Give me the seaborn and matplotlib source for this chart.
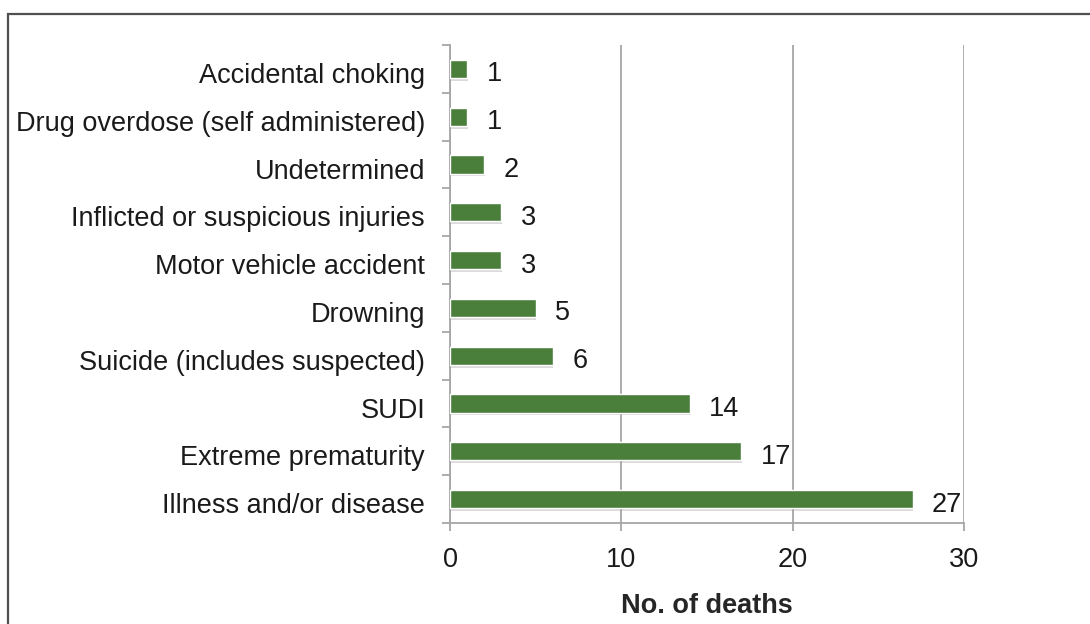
import matplotlib
matplotlib.use('Agg')
import matplotlib.pyplot as plt
import matplotlib.patches as mpatches
import matplotlib.patheffects as pe
from matplotlib.transforms import ScaledTranslation
import numpy as np
import pandas as pd
import seaborn as sns

causes = [
  'Accidental choking',
  'Drug overdose (self administered)',
  'Undetermined',
  'Inflicted or suspicious injuries',
  'Motor vehicle accident',
  'Drowning',
  'Suicide (includes suspected)',
  'SUDI',
  'Extreme prematurity',
  'Illness and/or disease',
]
deaths = [1, 1, 2, 3, 3, 5, 6, 14, 17, 27]
x_ticks = [0, 10, 20, 30]

sns.set_theme(style='white')
plt.rcParams.update({
  'font.family': ['Liberation Sans', 'DejaVu Sans'],
  'font.size': 19.5,
  'text.color': '#1a1a1a',
  'xtick.color': '#1a1a1a',
  'ytick.color': '#1a1a1a',
})

df = pd.DataFrame({'cause': causes, 'deaths': deaths})

fig = plt.figure(figsize=(10.9, 6.24), dpi=100)
ax = fig.add_axes([450 / 1090, 1 - 523 / 624, 514 / 1090, 478 / 624])

sns.barplot(data=df, x='deaths', y='cause', orient='h', color='#4a7f3b',
            saturation=1, width=0.38, ax=ax, zorder=3)

# soft shadow under the bars
for bar in ax.patches:
  bar.set_path_effects([
    pe.SimplePatchShadow(offset=(0.5, -2), shadow_rgbFace='#9a9a9a', alpha=0.35),
    pe.Normal(),
  ])

labels = ax.bar_label(ax.containers[0], padding=14, fontsize=19.5, color='#1a1a1a')
for t in labels:
  t.xyann = (14, -4)

ax.set_xlim(0, 30)
ax.set_xticks(x_ticks)
ax.set_ylim(len(causes) - 0.5, -0.5)
ax.set_xlabel('No. of deaths', fontweight='bold', fontsize=19.5, labelpad=15)
ax.set_ylabel('')

ax.grid(axis='x', color='#a6a6a6', linewidth=1.3, zorder=0)
ax.grid(axis='y', visible=False)
for s in ['top', 'right']:
  ax.spines[s].set_visible(False)
for s in ['left', 'bottom']:
  ax.spines[s].set_color('#a6a6a6')
  ax.spines[s].set_linewidth(1.3)

ax.set_yticks(np.arange(-0.5, len(causes)), minor=True)
ax.tick_params(axis='y', which='major', length=0, pad=18, labelsize=19.5)
ax.tick_params(axis='y', which='minor', left=True, length=6, width=1.3,
               color='#a6a6a6', direction='out')
ax.tick_params(axis='x', which='major', bottom=True, length=6, width=1.3,
               color='#a6a6a6', direction='out', pad=11, labelsize=19.5)

shift = ScaledTranslation(0, -3 / 72, fig.dpi_scale_trans)
for lab in ax.get_yticklabels():
  lab.set_transform(lab.get_transform() + shift)

# outer frame (only top and left edges fall inside the picture)
frame = mpatches.Rectangle((8 / 1090, -0.2), 1.2, 1.2 - 14 / 624,
                           transform=fig.transFigure, fill=False,
                           edgecolor='#505050', linewidth=1.6)
fig.add_artist(frame)

fig.savefig('out.png', dpi=100, facecolor='white')
